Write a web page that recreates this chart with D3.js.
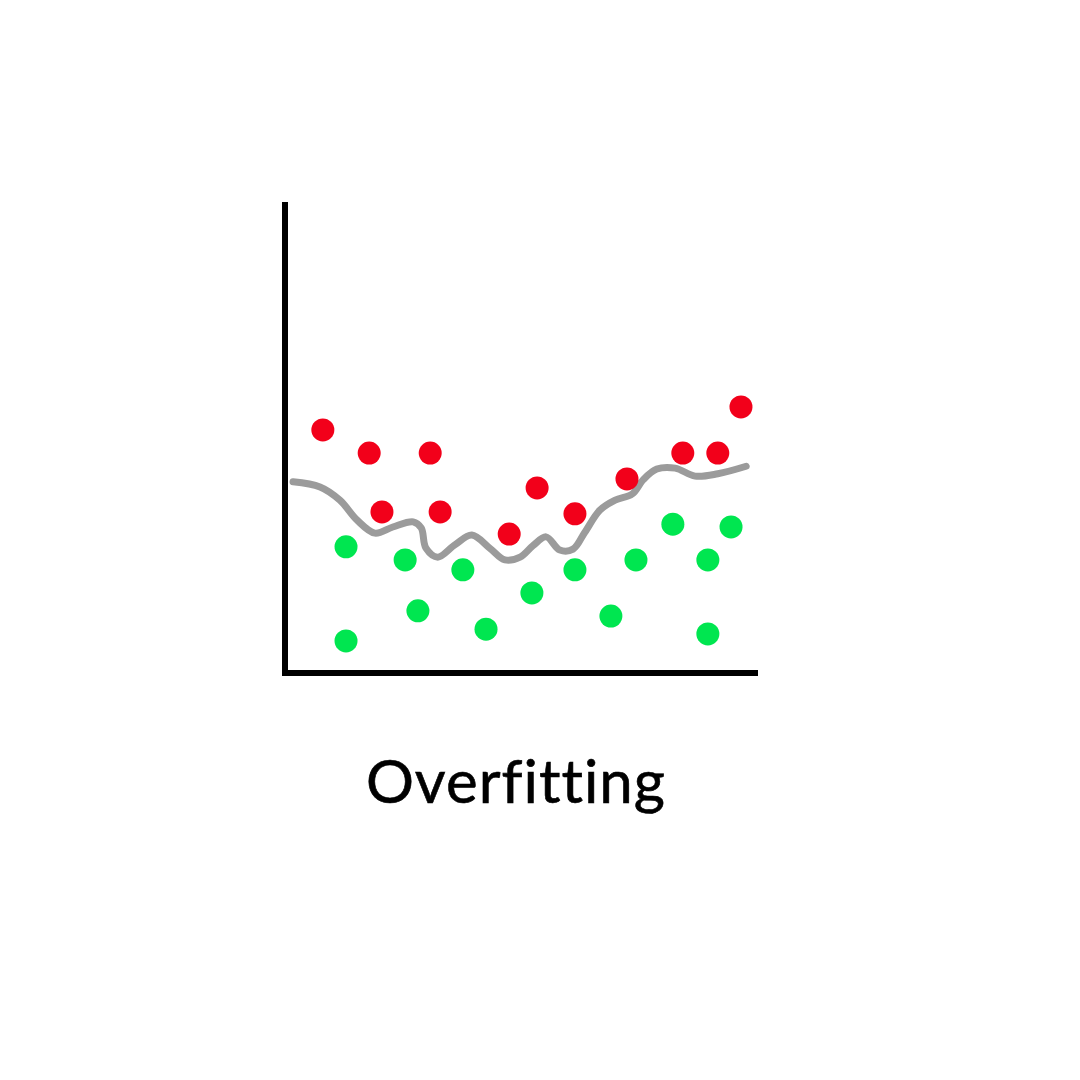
<!DOCTYPE html>
<head>
<meta charset="UTF-8">
<style>
    body { margin: 0; background: white; }
    .axis-line { stroke: black; stroke-width: 6; }
    .title { font-family: Lato, "Open Sans", sans-serif; font-size: 60px; fill: black;
        font-variant-ligatures: none; letter-spacing: 1px; stroke: black; stroke-width: 0.6; }
</style>
</head>
<svg width="1080" height="1080"></svg>
<script src="https://d3js.org/d3.v7.min.js"></script>
<script>
// red class points
var redX = [8.0, 17.8, 30.7, 20.5, 32.8, 47.4, 53.3, 61.3, 72.3, 84.1, 91.5, 96.4];
var redY = [51.6, 46.7, 46.7, 34.2, 34.2, 29.5, 39.3, 33.8, 41.2, 46.7, 46.7, 56.5];
// green class points
var greenX = [12.9, 12.9, 25.4, 28.1, 37.6, 42.5, 52.2, 61.3, 68.9, 74.2, 82.0, 89.4, 89.4, 94.3];
var greenY = [26.8, 6.8, 24.0, 13.2, 21.9, 9.3, 17.0, 21.9, 12.1, 24.0, 31.6, 24.0, 8.3, 31.0];
// overfitted boundary
var curveX = [1.7, 7.4, 11.6, 15.2, 19.0, 22.8, 27.1, 28.8, 29.8, 32.3, 35.9, 39.5, 43.3, 46.5, 49.7,
    52.4, 55.2, 58.1, 60.9, 63.4, 66.6, 69.8, 73.4, 75.7, 78.6, 82.5, 86.7, 91.5, 97.5];
var curveY = [40.6, 39.5, 36.7, 32.5, 29.7, 31.0, 32.1, 30.8, 26.5, 24.6, 27.2, 29.3, 26.5, 24.0, 24.6,
    27.0, 28.9, 26.1, 26.3, 29.9, 34.6, 36.7, 38.0, 41.0, 43.3, 43.5, 41.8, 42.3, 43.9];
var title = "Overfitting";

var svg = d3.select("svg");

var x = d3.scaleLinear().domain([0, 100]).range([285, 758]);
var y = d3.scaleLinear().domain([0, 100]).range([673, 202]);

// axes
svg.append("line").attr("class", "axis-line")
    .attr("x1", x(0)).attr("x2", x(0))
    .attr("y1", y(100)).attr("y2", y(0) + 3);
svg.append("line").attr("class", "axis-line")
    .attr("x1", x(0) - 3).attr("x2", x(100))
    .attr("y1", y(0)).attr("y2", y(0));

var line = d3.line()
    .x(function(d) { return x(d[0]); })
    .y(function(d) { return y(d[1]); })
    .curve(d3.curveCatmullRom.alpha(0.5));

svg.append("path")
    .datum(d3.zip(curveX, curveY))
    .attr("d", line)
    .attr("fill", "none")
    .attr("stroke", "#9b9b9b")
    .attr("stroke-width", 7)
    .attr("stroke-linecap", "round")
    .attr("stroke-linejoin", "round");

svg.append("g").selectAll("circle")
    .data(d3.zip(greenX, greenY))
    .enter().append("circle")
    .attr("cx", function(d) { return x(d[0]); })
    .attr("cy", function(d) { return y(d[1]); })
    .attr("r", 11.5)
    .attr("fill", "#00e650");

svg.append("g").selectAll("circle")
    .data(d3.zip(redX, redY))
    .enter().append("circle")
    .attr("cx", function(d) { return x(d[0]); })
    .attr("cy", function(d) { return y(d[1]); })
    .attr("r", 11.5)
    .attr("fill", "#f2001a");

svg.append("text")
    .attr("class", "title")
    .attr("x", 516)
    .attr("y", 803)
    .attr("text-anchor", "middle")
    .text(title);
</script>
